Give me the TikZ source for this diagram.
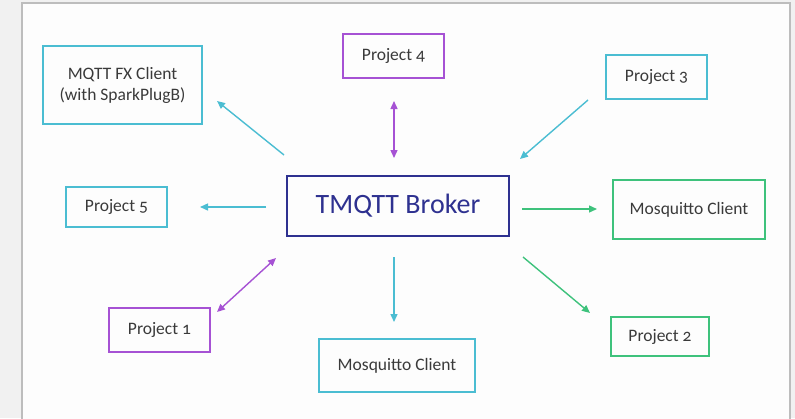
\documentclass[tikz,border=0pt]{standalone}
\usepackage{fontspec}
\setmainfont{Carlito}[Numbers=OldStyle]
\usetikzlibrary{arrows.meta}
\definecolor{cyanc}{HTML}{4BBDD2}
\definecolor{purpc}{HTML}{A652D4}
\definecolor{greenc}{HTML}{3EC27C}
\definecolor{navyc}{HTML}{2E3190}
\definecolor{txtc}{HTML}{3A3A3A}
\definecolor{outerbg}{HTML}{F1F1F1}
\definecolor{innerbg}{HTML}{FDFDFD}
\definecolor{framec}{HTML}{BDBDBD}
\tikzset{
  box/.style={draw, line width=1.8pt, rectangle, inner sep=0pt, text=txtc,
    font=\fontsize{17.5}{21}\selectfont, align=center},
  conn/.style={line width=1.4pt, -{Triangle[length=8pt,width=7pt]}},
  bconn/.style={line width=1.4pt, {Triangle[length=8pt,width=7pt]}-{Triangle[length=8pt,width=7pt]}},
}
\begin{document}
\begin{tikzpicture}[x=1pt,y=-1pt]
\useasboundingbox (0,0) rectangle (795,418);
\fill[outerbg] (0,0) rectangle (795,418);
\fill[innerbg] (22,3) rectangle (790,420);
\draw[framec, line width=1.6pt] (22,420) -- (22,3) -- (790,3) -- (790,420);

\node[box, draw=cyanc, minimum width=159pt, minimum height=78pt] (mqtt) at (122.5,85) {MQTT FX Client\\(with SparkPlugB)};
\node[box, draw=purpc, minimum width=101pt, minimum height=44pt] (p4) at (393.5,56) {Project 4};
\node[box, draw=cyanc, minimum width=101pt, minimum height=44pt] (p3) at (656.5,77) {Project 3};
\node[box, draw=navyc, line width=1.4pt, text=navyc, font=\fontsize{28}{32}\selectfont, minimum width=222pt, minimum height=60pt] (broker) at (398,206) {TMQTT Broker};
\node[box, draw=cyanc, minimum width=101pt, minimum height=40pt] (p5) at (116.5,207) {Project 5};
\node[box, draw=greenc, minimum width=152pt, minimum height=59pt] (mosr) at (689,209.5) {Mosquitto Client};
\node[box, draw=purpc, minimum width=101pt, minimum height=44pt] (p1) at (159.5,330) {Project 1};
\node[box, draw=cyanc, minimum width=156pt, minimum height=53pt] (mosb) at (397,365.5) {Mosquitto Client};
\node[box, draw=greenc, minimum width=98pt, minimum height=39pt] (p2) at (660,336.5) {Project 2};

\coordinate (aMs) at (284,155); \coordinate (aMe) at (217,101);
\coordinate (a4s) at (394,158); \coordinate (a4e) at (394,101);
\coordinate (a3s) at (588,100); \coordinate (a3e) at (520,159);
\coordinate (a5s) at (266,207); \coordinate (a5e) at (200,207);
\coordinate (aRs) at (522,209); \coordinate (aRe) at (597,209);
\coordinate (a1s) at (276,258); \coordinate (a1e) at (217,312);
\coordinate (aBs) at (394,257); \coordinate (aBe) at (394,322);
\coordinate (a2s) at (523,257); \coordinate (a2e) at (590,313);

\draw[conn, cyanc] (aMs) -- (aMe);
\draw[bconn, purpc] (a4s) -- (a4e);
\draw[conn, cyanc] (a3s) -- (a3e);
\draw[conn, cyanc] (a5s) -- (a5e);
\draw[conn, greenc] (aRs) -- (aRe);
\draw[bconn, purpc] (a1s) -- (a1e);
\draw[conn, cyanc] (aBs) -- (aBe);
\draw[conn, greenc] (a2s) -- (a2e);
\end{tikzpicture}
\end{document}
